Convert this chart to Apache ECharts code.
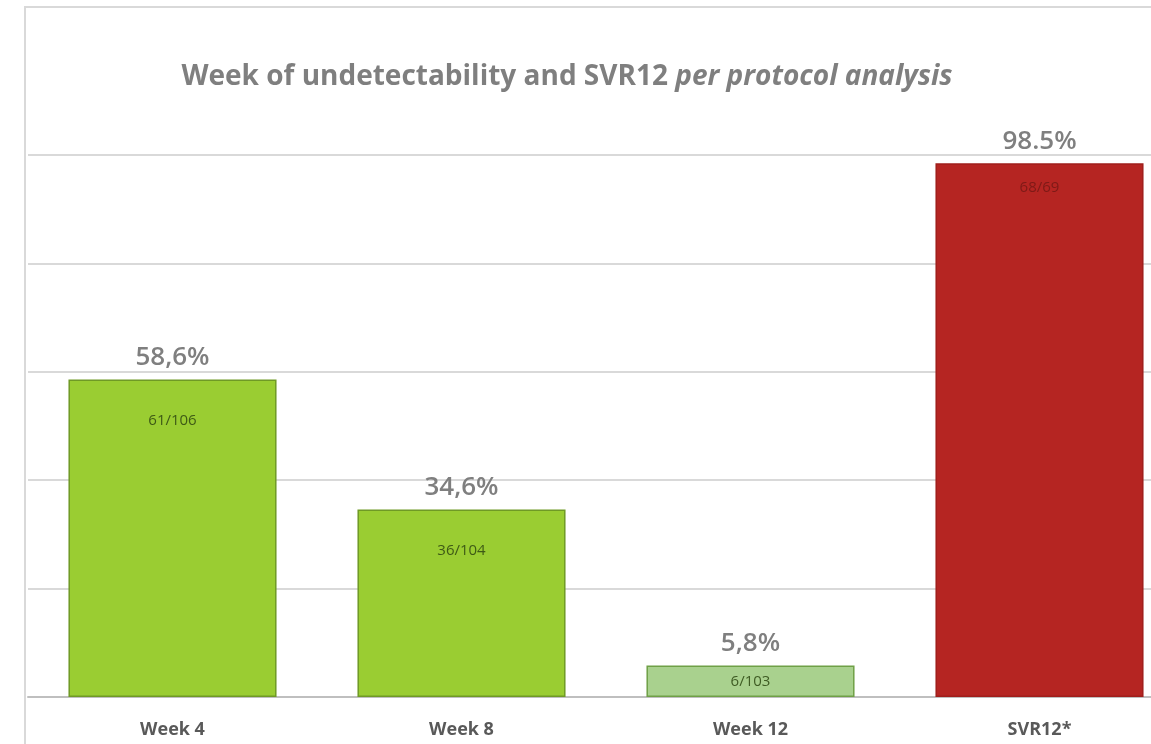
<!DOCTYPE html>
<html>
<head>
<meta charset="utf-8">
<script src="https://cdn.jsdelivr.net/npm/echarts@6/dist/echarts.min.js"></script>
<style>
  html, body { margin: 0; padding: 0; overflow: hidden; background: #fff; }
  #chart { width: 1190px; height: 744px; }
</style>
</head>
<body>
<div id="chart"></div>
<script>
// 数据
const categories = ['Week 4', 'Week 8', 'Week 12', 'SVR12*']
const values = [58.6, 34.6, 5.8, 98.5]
const percentLabels = ['58,6%', '34,6%', '5,8%', '98.5%']
const fractionLabels = ['61/106', '36/104', '6/103', '68/69']
const yTicks = [0, 20, 40, 60, 80, 100]

const chart = echarts.init(document.getElementById('chart'))

// 每根柱子的颜色
const barColors = ['#9acd32', '#9acd32', '#a9d18e', '#b52522']
const barBorders = ['#6f9a25', '#6f9a25', '#6fa046', '#a01e1b']
const innerColors = ['#3e5a16', '#3e5a16', '#3f5c24', '#7e1a17']

const font = '"Open Sans", "Noto Sans", sans-serif'

chart.setOption({
  animation: false,
  title: {
    text: '{b|Week of undetectability and SVR12 }{i|per protocol analysis}',
    left: 562,
    textAlign: 'center',
    top: 58,
    textStyle: {
      rich: {
        b: { fontFamily: font, fontSize: 28, fontWeight: 'bold', color: '#7f7f7f' },
        i: { fontFamily: font, fontSize: 28, fontWeight: 'bold', fontStyle: 'italic', color: '#7f7f7f' }
      }
    }
  },
  graphic: [{
    type: 'rect',
    shape: { x: 25, y: 7, width: 1300, height: 800 },
    style: { fill: 'none', stroke: '#d9d9d9', lineWidth: 2 },
    silent: true,
    z: -1
  }],
  grid: { left: 28, right: 6, top: 155, bottom: 47 },
  xAxis: {
    type: 'category',
    data: categories,
    axisTick: { show: false },
    axisLine: { lineStyle: { color: '#bfbfbf', width: 2 } },
    axisLabel: {
      margin: 24,
      fontFamily: font,
      fontSize: 18,
      fontWeight: 'bold',
      color: '#595959'
    }
  },
  yAxis: {
    type: 'value',
    min: yTicks[0],
    max: yTicks[yTicks.length - 1],
    interval: yTicks[1] - yTicks[0],
    axisLabel: { show: false },
    axisLine: { show: false },
    splitLine: { lineStyle: { color: '#d9d9d9', width: 2 } }
  },
  series: [
    {
      type: 'bar',
      barCategoryGap: '28%',
      data: values.map((v, i) => ({
        value: v,
        itemStyle: { color: barColors[i], borderColor: barBorders[i], borderWidth: 1.5 },
        label: {
          position: i === 2 ? 'inside' : 'insideTop',
          distance: i === 3 ? 17 : 34,
          color: innerColors[i]
        }
      })),
      label: {
        show: true,
        fontFamily: font,
        fontSize: 15,
        formatter: p => fractionLabels[p.dataIndex]
      }
    },
    {
      // 柱顶百分比（透明覆盖层）
      type: 'bar',
      barGap: '-100%',
      barCategoryGap: '28%',
      data: values,
      itemStyle: { color: 'transparent' },
      silent: true,
      label: {
        show: true,
        position: 'top',
        distance: 9,
        fontFamily: font,
        fontSize: 26,
        fontWeight: 600,
        color: '#7f7f7f',
        formatter: p => percentLabels[p.dataIndex]
      }
    }
  ]
})
</script>
</body>
</html>
